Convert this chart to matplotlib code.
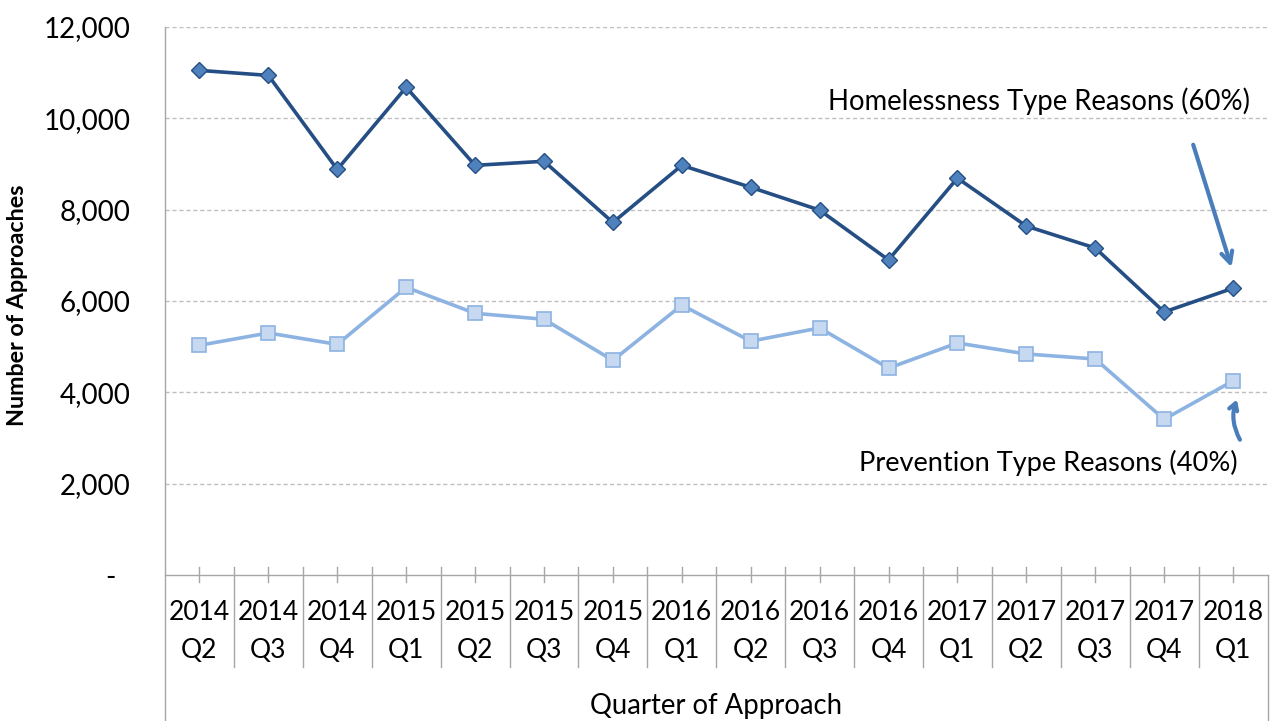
import matplotlib.pyplot as plt
import matplotlib.transforms as mtransforms

plt.rcParams["font.family"] = ["Lato", "DejaVu Sans"]

years = ["2014", "2014", "2014", "2015", "2015", "2015", "2015", "2016",
         "2016", "2016", "2016", "2017", "2017", "2017", "2017", "2018"]
quarters = ["Q2", "Q3", "Q4", "Q1", "Q2", "Q3", "Q4", "Q1",
            "Q2", "Q3", "Q4", "Q1", "Q2", "Q3", "Q4", "Q1"]
homelessness = [11050, 10940, 8880, 10680, 8970, 9060, 7720, 8970,
                8490, 7990, 6900, 8690, 7640, 7160, 5760, 6280]
prevention = [5030, 5300, 5050, 6300, 5730, 5600, 4700, 5910,
              5120, 5410, 4530, 5080, 4840, 4730, 3410, 4250]
yticks = [0, 2000, 4000, 6000, 8000, 10000, 12000]
ytick_labels = ["-  ", "2,000", "4,000", "6,000", "8,000", "10,000", "12,000"]

DARK = "#254f84"
DARK_MARK = "#4f81bd"
LIGHT = "#8db3e2"
LIGHT_MARK = "#c6d9f1"
ARROW = "#4a7ebb"
AXIS_GREY = "#a6a6a6"


def main():
    fig = plt.figure(figsize=(12.7, 7.21), dpi=100)
    ax = fig.add_axes([165 / 1270, 1 - 575 / 721, 1102.5 / 1270, 548 / 721])

    x = list(range(len(years)))
    ax.plot(x, homelessness, color=DARK, lw=2.6, marker="D", ms=8,
            mfc=DARK_MARK, mec=DARK, mew=1, zorder=4)
    ax.plot(x, prevention, color=LIGHT, lw=2.6, marker="s", ms=9.5,
            mfc=LIGHT_MARK, mec=LIGHT, mew=1.2, zorder=3)

    ax.set_xlim(-0.5, len(years) - 0.5)
    ax.set_ylim(0, 12000)
    ax.set_yticks(yticks)
    ax.set_yticklabels(ytick_labels, fontsize=20)
    ax.tick_params(axis="y", length=0, pad=25)
    ax.set_xticks([])

    for yv in yticks[1:]:
        ax.axhline(yv, color="#bfbfbf", lw=1, ls=(0, (3, 2)), zorder=1)

    for s in ["top", "right", "bottom", "left"]:
        ax.spines[s].set_visible(False)

    trans = mtransforms.blended_transform_factory(ax.transData, fig.transFigure)

    def fy(py):
        return 1 - py / 721

    # axis lines
    ax.plot([-0.5, -0.5], [fy(27), fy(720)], transform=trans, color=AXIS_GREY,
            lw=1, clip_on=False)
    ax.plot([len(years) - 0.5] * 2, [fy(575), fy(720)], transform=trans,
            color=AXIS_GREY, lw=1, clip_on=False)
    ax.plot([-0.5, len(years) - 0.5], [fy(575), fy(575)], transform=trans,
            color=AXIS_GREY, lw=1, clip_on=False)

    for i in x:
        ax.plot([i, i], [fy(567), fy(582)], transform=trans, color=AXIS_GREY,
                lw=1, clip_on=False)
        if i > 0:
            ax.plot([i - 0.5, i - 0.5], [fy(567), fy(667)], transform=trans,
                    color=AXIS_GREY, lw=1, clip_on=False)
        ax.text(i, fy(613), years[i], transform=trans, ha="center",
                va="center", fontsize=19)
        ax.text(i, fy(650), quarters[i], transform=trans, ha="center",
                va="center", fontsize=19)

    ax.text((len(years) - 1) / 2, fy(706), "Quarter of Approach", transform=trans,
            ha="center", va="center", fontsize=19.8)

    fig.text(18 / 1270, fy(305), "Number of Approaches", rotation=90,
             ha="center", va="center", fontsize=16.8, fontweight="bold")

    ax.text(15.25, 10380, "Homelessness Type Reasons (60%)", ha="right",
            va="center", fontsize=19.8)
    ax.text(15.06, 2450, "Prevention Type Reasons (40%)", ha="right",
            va="center", fontsize=19.6)

    ax.annotate("", xy=(14.99, 6680), xytext=(14.41, 9480),
                arrowprops=dict(arrowstyle="->,head_length=0.8,head_width=0.4",
                                color=ARROW, lw=3))
    ax.annotate("", xy=(15.07, 3900), xytext=(15.12, 2910),
                arrowprops=dict(arrowstyle="->,head_length=0.5,head_width=0.3",
                                color=ARROW, lw=3,
                                connectionstyle="arc3,rad=-0.25"))

    fig.savefig("out.png", dpi=100)


if __name__ == "__main__":
    main()
